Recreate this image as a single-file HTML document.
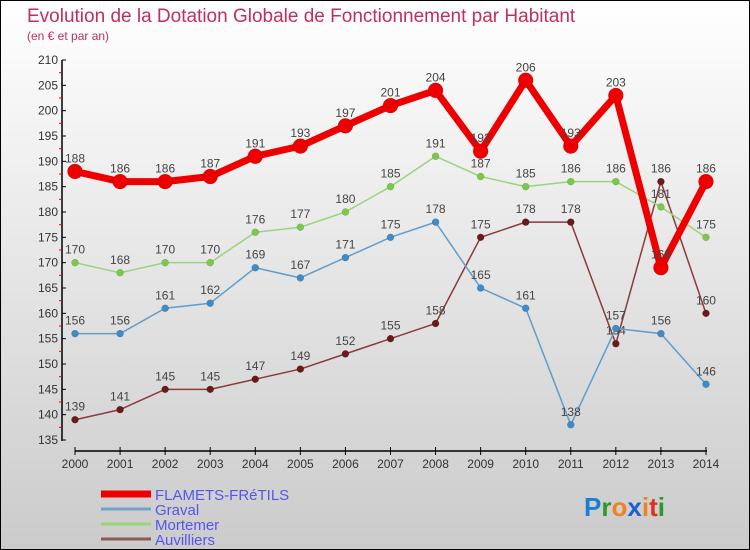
<!DOCTYPE html>
<html><head><meta charset="utf-8"><style>
body{margin:0}
#c{width:748px;height:548px;border:1px solid #000;background:linear-gradient(#fff,#cbcbcb);position:relative;overflow:hidden;font-family:"Liberation Sans",sans-serif}
</style></head><body>
<div id="c">
<svg id="s" width="748" height="548" xmlns="http://www.w3.org/2000/svg">
<text x="26" y="21" font-size="19" fill="#c0305a">Evolution de la Dotation Globale de Fonctionnement par Habitant</text>
<text x="26" y="39" font-size="12" fill="#c0305a">(en € et par an)</text>
</svg>
</div>
<script>
const years=[2000,2001,2002,2003,2004,2005,2006,2007,2008,2009,2010,2011,2012,2013,2014];
const flamets=[188,186,186,187,191,193,197,201,204,192,206,193,203,169,186];
const graval=[156,156,161,162,169,167,171,175,178,165,161,138,157,156,146];
const mortemer=[170,168,170,170,176,177,180,185,191,187,185,186,186,181,175];
const auvilliers=[139,141,145,145,147,149,152,155,158,175,178,178,154,186,160];
const yTicks=[135,140,145,150,155,160,165,170,175,180,185,190,195,200,205,210];
const NS='http://www.w3.org/2000/svg';
const s=document.getElementById('s');
const X=i=>74+i*45.07;
const Y=v=>439-(v-135)*(380/75);
function el(t,a,p){const e=document.createElementNS(NS,t);for(const k in a)e.setAttribute(k,a[k]);(p||s).appendChild(e);return e;}
// axes
let ya=el('line',{x1:61,y1:59,x2:61,y2:440,stroke:'#000','stroke-width':1.5});


yTicks.forEach(v=>{
  const y=Y(v);
  el('line',{x1:61,y1:y,x2:65,y2:y,stroke:'#000'});
  if(v<210){const m=el('line',{x1:58,y1:Y(v+2.5),x2:61,y2:Y(v+2.5),stroke:'#e00'});}
  const t=el('text',{x:57,y:y+4,'font-size':12,fill:'#333','text-anchor':'end'});
  t.textContent=v;
  
  
});
let xa=el('line',{x1:74,y1:450,x2:706,y2:450,stroke:'#000','stroke-width':1.5});


years.forEach((yr,i)=>{
  el('line',{x1:X(i),y1:446,x2:X(i),y2:454,stroke:'#000'});
  const t=el('text',{x:X(i),y:467,'font-size':12,fill:'#333','text-anchor':'middle'});
  t.textContent=yr;
  
  
});
function series(data,color,w,r,name,dot){
  const g=el('g',{});
  
  
  el('polyline',{points:data.map((v,i)=>X(i)+','+Y(v)).join(' '),fill:'none',stroke:color,'stroke-width':w,'stroke-linejoin':'round'},g);
  data.forEach((v,i)=>{
    const c=el('circle',{cx:X(i),cy:Y(v),r:r,fill:dot,stroke:'#0003','stroke-width':0.5},g);
    
    
    const t=el('text',{x:X(i),y:Y(v)-9,'font-size':12,fill:'#444','text-anchor':'middle'},g);
    t.textContent=v;
  });
}
series(auvilliers,'#8a3b3b',1.5,3.5,'series-auvilliers','#6b1a1a');
series(graval,'#5f9dcc',1.5,3.5,'series-graval','#3f8bc8');
series(mortemer,'#9ad47a',1.5,3.5,'series-mortemer','#7cc84a');
series(flamets,'#ee0000',7,7.5,'series-flamets-fretils','#ee0000');
// legend
const leg=[['FLAMETS-FRéTILS','#ee0000',7],['Graval','#6fa3cc',3],['Mortemer','#9ad47a',3],['Auvilliers','#8a5a5a',3]];
leg.forEach((l,i)=>{
  const y=493+i*15;
  const g=el('g',{});
  
  
  el('line',{x1:100,y1:y,x2:150,y2:y,stroke:l[1],'stroke-width':l[2]},g);
  const t=el('text',{x:154,y:y+6,'font-size':15,fill:'#5555ee'},g);
  t.textContent=l[0];
});
const lg=el('text',{x:583,y:515,'font-size':26,'font-weight':'bold'});


[['P','#1a7fd4'],['r','#2a9a2a'],['o','#f08020'],['x','#1a5fd4'],['i','#f08020'],['t','#e03020'],['i','#2a9a2a']].forEach(([c,f])=>{const ts=el('tspan',{fill:f},lg);ts.textContent=c;});
</script>
</body></html>
